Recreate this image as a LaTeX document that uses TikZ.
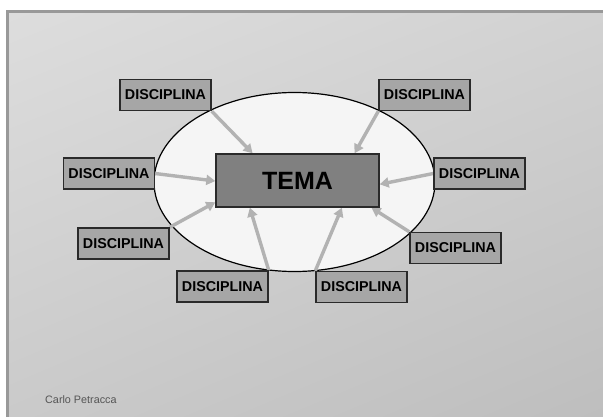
\documentclass[tikz,border=0pt]{standalone}
\usepackage{fontspec}
\setmainfont{Liberation Sans}
\usetikzlibrary{arrows.meta,calc,shadings,shapes.geometric}
\pgfdeclarelayer{back}
\pgfdeclarelayer{links}
\pgfsetlayers{back,links,main}
\definecolor{bgA}{HTML}{DDDDDD}
\definecolor{bgB}{HTML}{D2D2D2}
\definecolor{bgC}{HTML}{CACACA}
\definecolor{bgD}{HTML}{BEBEBE}
\definecolor{frameC}{HTML}{999999}
\definecolor{discFill}{HTML}{A6A6A6}
\definecolor{temaFill}{HTML}{808080}
\definecolor{edgeC}{HTML}{2A2A2A}
\definecolor{arrowC}{HTML}{B2B2B2}
\definecolor{ellFill}{HTML}{F5F5F5}
\definecolor{authorC}{HTML}{555555}
\tikzset{
  discbox/.style={draw=edgeC, line width=1.4pt, fill=discFill, minimum width=91pt, minimum height=31pt, inner sep=0pt,
    font=\fontsize{14.3}{16}\selectfont\bfseries},
  temabox/.style={draw=edgeC, line width=1.4pt, fill=temaFill, minimum width=163pt, minimum height=53pt, inner sep=0pt,
    font=\fontsize{25}{28}\selectfont\bfseries},
  feed/.style={draw=arrowC, line width=3.4pt, -{Triangle[length=9pt,width=10pt]}, shorten >=0pt},
}
\begin{document}
\begin{tikzpicture}[x=1pt,y=-1pt]
\useasboundingbox (0,0) rectangle (603,417);
\begin{pgfonlayer}{back}
\fill[white] (0,0) rectangle (603,417);
\shade[upper left=bgA, upper right=bgB, lower left=bgC, lower right=bgD] (7.5,11.5) rectangle (603,417);
\draw[frameC, line width=2.5pt] (7.5,417) -- (7.5,11.5) -- (603,11.5);
\node[draw=black, line width=1.2pt, fill=ellFill, ellipse, minimum width=281pt, minimum height=179pt, inner sep=0pt] (ell) at (294.5,182) {};
\end{pgfonlayer}
\node[temabox] (tema) at (297.5,180.5) {TEMA};
\node[discbox] (d1) at (165.5,95) {DISCIPLINA};
\node[discbox] (d2) at (424.5,95) {DISCIPLINA};
\node[discbox] (d3) at (109,173.5) {DISCIPLINA};
\node[discbox] (d4) at (479.5,173.5) {DISCIPLINA};
\node[discbox] (d5) at (123.5,243.5) {DISCIPLINA};
\node[discbox] (d6) at (222.5,286.5) {DISCIPLINA};
\node[discbox] (d7) at (361.5,287) {DISCIPLINA};
\node[discbox] (d8) at (455.5,248) {DISCIPLINA};
\begin{pgfonlayer}{links}
\draw[feed] (d1.south east) -- ($(tema.north west)!0.227!(tema.north east)$);
\draw[feed] (d2.south west) -- ($(tema.north west)!0.847!(tema.north east)$);
\draw[feed] (d3.east) -- ($(tema.north west)!0.51!(tema.south west)$);
\draw[feed] (d4.west) -- ($(tema.north east)!0.57!(tema.south east)$);
\draw[feed] (d5.north east) -- ($(tema.north west)!0.9!(tema.south west)$);
\draw[feed] (d6.north east) -- ($(tema.south west)!0.21!(tema.south east)$);
\draw[feed] (d7.north west) -- ($(tema.south west)!0.77!(tema.south east)$);
\draw[feed] (d8.north west) -- ($(tema.south west)!0.95!(tema.south east)$);
\end{pgfonlayer}
\node[anchor=west, text=authorC, font=\fontsize{10.8}{12}\selectfont, inner sep=0pt] (author) at (45,400) {Carlo Petracca};
\end{tikzpicture}
\end{document}
